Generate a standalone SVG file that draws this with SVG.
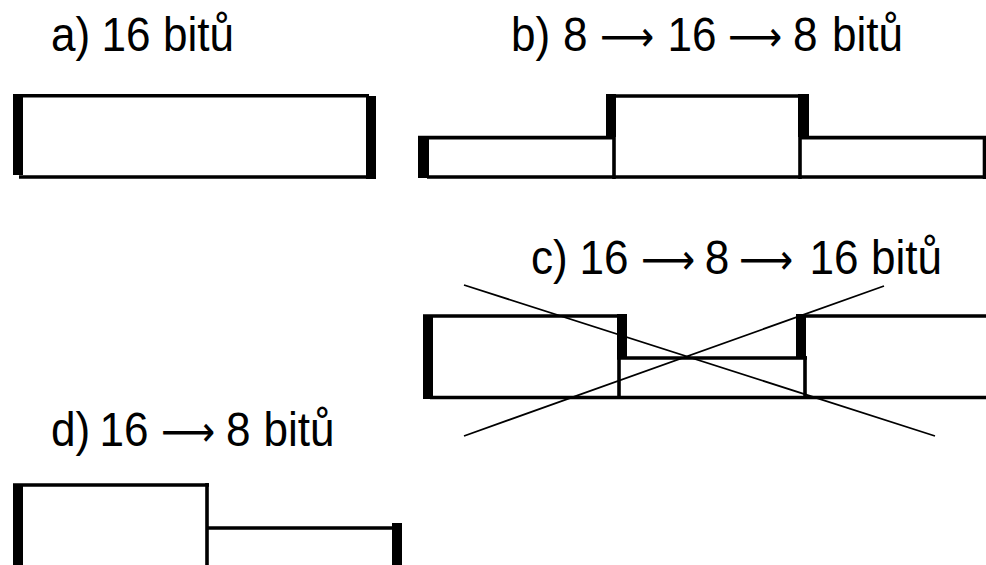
<svg xmlns="http://www.w3.org/2000/svg" width="986" height="565" viewBox="0 0 986 565">
<style>
.ln{stroke:#000;stroke-width:3.6;fill:none}
.bar{fill:#000}
.x{stroke:#000;stroke-width:1.8;fill:none}
.t{font-family:"Liberation Sans",Arial,sans-serif;font-size:49px;fill:#000}
.ar{font-family:"DejaVu Sans",sans-serif;font-size:42px}
</style>
<rect width="986" height="565" fill="#fff"/>
<g id="a">
<text class="t" transform="translate(51,51) scale(0.9,1)"><tspan x="0">a)</tspan><tspan x="56.1">16</tspan><tspan x="124.5">bitů</tspan></text>
<path class="ln" d="M13,95.8 H369 M19,177 H369"/>
<rect class="bar" x="13" y="94" width="10" height="81"/>
<rect class="bar" x="366" y="96" width="10" height="83"/>
</g>
<g id="b">
<text class="t" transform="translate(511,51) scale(0.9,1)"><tspan x="0">b)</tspan><tspan x="57.8">8</tspan><tspan class="ar" x="98.9">⟶</tspan><tspan x="173.8">16</tspan><tspan class="ar" x="241.1">⟶</tspan><tspan x="313.3">8</tspan><tspan x="356.7">bitů</tspan></text>
<path class="ln" d="M418,137.6 H614 M427,177 H986 M614,136 V179 M606,96 H809 M800,94 V179 M800,137.6 H986 M984.5,136 V179"/>
<rect class="bar" x="418" y="136" width="11" height="42"/>
<rect class="bar" x="606" y="94" width="10" height="43"/>
<rect class="bar" x="798" y="94" width="11" height="43"/>
</g>
<g id="c">
<text class="t" transform="translate(531,274) scale(0.9,1)"><tspan x="0">c)</tspan><tspan x="53.9">16</tspan><tspan class="ar" x="122.2">⟶</tspan><tspan x="193.2">8</tspan><tspan class="ar" x="231.1">⟶</tspan><tspan x="309.4">16</tspan><tspan x="377.8">bitů</tspan></text>
<path class="ln" d="M423,316 H627 M617,358 H807 M619,356 V399 M430,397.5 H986 M805,356 V399 M796,316 H986"/>
<rect class="bar" x="423" y="315" width="10" height="84"/>
<rect class="bar" x="617" y="314" width="10" height="43"/>
<rect class="bar" x="796" y="314" width="10" height="44"/>
</g>
<g id="d">
<text class="t" transform="translate(51,446) scale(0.9,1)"><tspan x="0">d)</tspan><tspan x="53.9">16</tspan><tspan class="ar" x="122.2">⟶</tspan><tspan x="194.4">8</tspan><tspan x="236">bitů</tspan></text>
<path class="ln" d="M13,485 H209 M207,483 V565 M207,528 H397"/>
<rect class="bar" x="13" y="485" width="10" height="80"/>
<rect class="bar" x="392" y="523" width="10" height="42"/>
</g>
<g id="connectors">
<path class="x" d="M464,285 L935,436 M464,436 L884,286"/>
</g>
</svg>
